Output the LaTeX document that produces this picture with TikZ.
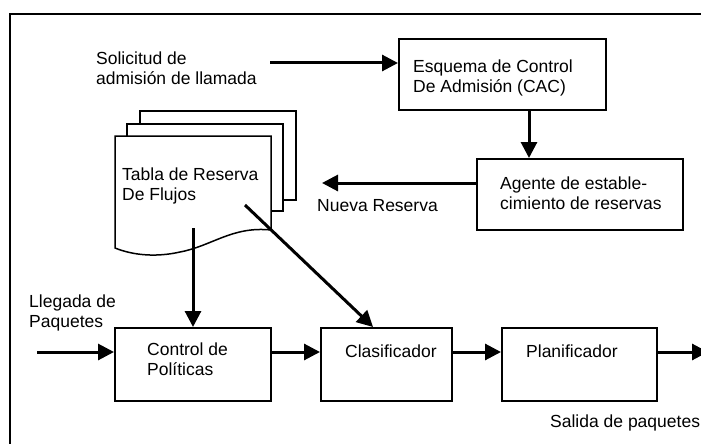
\documentclass[tikz,border=0pt]{standalone}
\usepackage{fontspec}
\setmainfont{Liberation Sans}
\usetikzlibrary{arrows.meta}

\begin{document}
\begin{tikzpicture}[x=1pt, y=-1pt,
    box/.style={draw, line width=2pt, inner sep=0pt},
    txt/.style={anchor=north west, align=left, inner sep=0pt, font=\fontsize{17.5}{20}\selectfont},
    arr/.style={line width=3pt, -{Triangle[length=16pt,width=16pt]}}]
    \useasboundingbox (0,0) rectangle (701,444);

    % Frame
    \draw [line width=2pt] (701,14) -- (10,14) -- (10,444);

    % Document stack
    \draw [line width=1.5pt, fill=white] (140,111) rectangle (296,200);
    \draw [line width=1.5pt, fill=white] (127,124) rectangle (283,211);
    \draw [line width=1.5pt, fill=white] (115,136) -- (271,136) -- (271,230)
        .. controls (232,226) and (212,246) .. (180,252)
        .. controls (158,257) and (135,256) .. (115,248) -- cycle;

    % Boxes
    \node [box, minimum width=207pt, minimum height=71pt] (cac) at (502.5,74.5) {};
    \node [box, minimum width=206pt, minimum height=71pt] (agente) at (580,194.5) {};
    \node [box, minimum width=156pt, minimum height=73pt] (ctrl) at (193,364.5) {};
    \node [box, minimum width=131pt, minimum height=73pt] (clas) at (386.5,364.5) {};
    \node [box, minimum width=155pt, minimum height=73pt] (plan) at (579.5,364.5) {};

    % Labels
    \node [txt] (solT) at (96,52) {Solicitud de\\admisión de llamada};
    \node [txt] (cacT) at (413,60) {Esquema de Control\\De Admisión (CAC)};
    \node [txt] (ageT) at (500,177) {Agente de estable-\\cimiento de reservas};
    \node [txt] (nueT) at (317,199) {Nueva Reserva};
    \node [txt] (tabT) at (122,168) {Tabla de Reserva\\De Flujos};
    \node [txt] (lleT) at (29,295) {Llegada de\\Paquetes};
    \node [txt] (ctrT) at (147,343) {Control de\\Políticas};
    \node [txt] (claT) at (345,345) {Clasificador};
    \node [txt] (plaT) at (526,345) {Planificador};
    \node [txt] (salT) at (550,415) {Salida de paquetes};

    % Arrows
    \coordinate (solIn) at (270,63);
    \coordinate (nueva) at (322,183);
    \coordinate (tabBot) at (193,228);
    \coordinate (tabDiag) at (245,205);
    \coordinate (llegada) at (37,352);
    \coordinate (salida) at (708,352);
    \draw [arr] (solIn) -- (solIn -| cac.west);
    \draw [arr] ([xshift=26.5pt]cac.south) -- ([xshift=-51pt]agente.north);
    \draw [arr] (nueva -| agente.west) -- (nueva);
    \draw [arr] (tabBot) -- (ctrl.north);
    \draw [arr] (tabDiag) -- ([xshift=-13.5pt]clas.north);
    \draw [arr] (llegada) -- (llegada -| ctrl.west);
    \draw [arr] (llegada -| ctrl.east) -- (llegada -| clas.west);
    \draw [arr] (llegada -| clas.east) -- (llegada -| plan.west);
    \draw [arr] (llegada -| plan.east) -- (salida);
\end{tikzpicture}
\end{document}
